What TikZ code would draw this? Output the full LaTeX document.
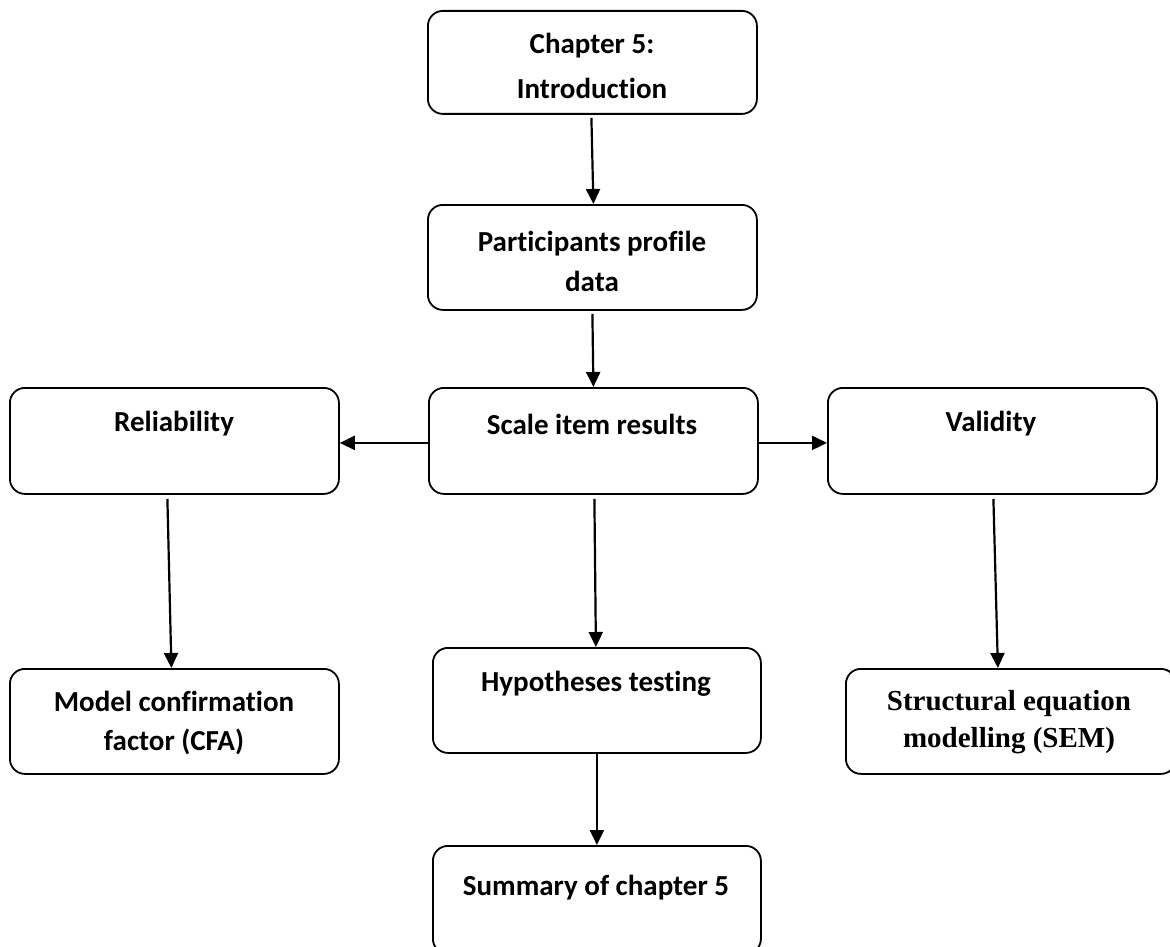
\documentclass[tikz,border=0pt]{standalone}
\usepackage{fontspec}
\setmainfont{Carlito}[Ligatures={NoCommon}]
\newfontfamily\serifbold{Liberation Serif}
\usetikzlibrary{arrows.meta}
\begin{document}
\begin{tikzpicture}[x=1pt,y=-1pt,
  box/.style={draw=black, line width=1.8pt, rounded corners=15pt, inner sep=0pt, anchor=north west},
  txt/.style={font=\fontsize{29}{40}\selectfont\bfseries, align=center, inner sep=0pt},
  flow/.style={line width=2.2pt, -{Triangle[length=15pt,width=14pt]}}]
  \useasboundingbox (0,0) rectangle (1170,947);

  % boxes, placed by their top-left corners
  \node[box, minimum width=329pt, minimum height=103pt] (intro) at (427,10) {};
  \node[box, minimum width=329pt, minimum height=105pt] (prof)  at (427,204) {};
  \node[box, minimum width=329pt, minimum height=106pt] (rel)   at (9,387) {};
  \node[box, minimum width=329pt, minimum height=106pt] (scale) at (428,387) {};
  \node[box, minimum width=329pt, minimum height=106pt] (val)   at (827,387) {};
  \node[box, minimum width=329pt, minimum height=105pt] (cfa)   at (9,668) {};
  \node[box, minimum width=328pt, minimum height=105pt] (hyp)   at (432,647) {};
  \node[box, minimum width=330pt, minimum height=105pt] (sem)   at (845,668) {};
  \node[box, minimum width=328pt, minimum height=108pt] (summ)  at (432,845) {};

  % box texts
  \node[txt, font=\fontsize{29}{45}\selectfont\bfseries] (introT) at (592,66) {Chapter 5:\\Introduction};
  \node[txt] (profT)  at (592,261) {Participants profile\\data};
  \node[txt] (relT)   at (174,424) {Reliability};
  \node[txt] (scaleT) at (592,424) {Scale item results};
  \node[txt] (valT)   at (991,424) {Validity};
  \node[txt, font=\fontsize{29}{39}\selectfont\bfseries] (cfaT) at (174,723) {Model confirmation\\factor (CFA)};
  \node[txt] (hypT)   at (596,684) {Hypotheses testing};
  \node[txt, font=\fontsize{29}{37}\selectfont\serifbold\bfseries] (semT) at (1009,722) {Structural equation\\modelling (SEM)};
  \node[txt] (summT)  at (596,888) {Summary of chapter 5};

  % connectors
  \draw[flow] ([xshift=-1pt,yshift=-3pt]intro.south) -- ([xshift=1pt]prof.north);
  \draw[flow] ([yshift=-3pt]prof.south) -- (scale.north);
  \draw[flow] ([yshift=-2pt]scale.west) -- ([yshift=-2pt]rel.east);
  \draw[flow] ([yshift=-2pt]scale.east) -- ([yshift=-2pt]val.west);
  \draw[flow] ([xshift=-7pt,yshift=-4pt]rel.south) -- ([xshift=-3pt]cfa.north);
  \draw[flow] ([xshift=1pt,yshift=-4pt]scale.south) -- ([xshift=-1pt]hyp.north);
  \draw[flow] ([xshift=1pt,yshift=-4pt]val.south) -- ([xshift=-13pt]sem.north);
  \draw[flow] (hyp.south) -- (summ.north);
\end{tikzpicture}
\end{document}
